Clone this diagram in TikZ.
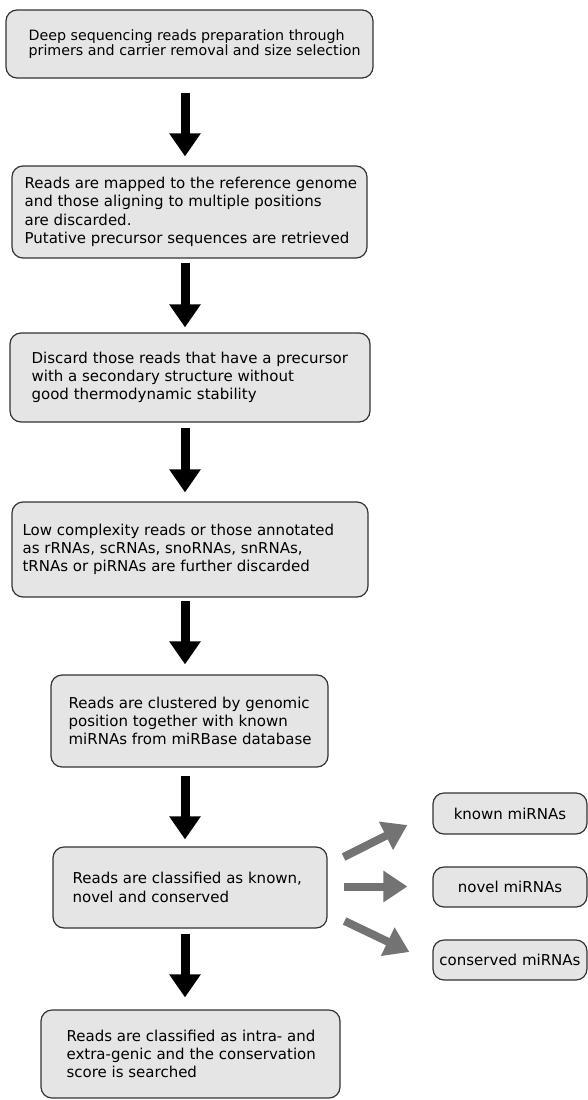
\documentclass[tikz,border=0pt]{standalone}
\usepackage{fontspec}
\setmainfont{DejaVu Sans}
\usetikzlibrary{arrows.meta}

\begin{document}
\begin{tikzpicture}[x=1pt,y=-1pt,
  stage/.style={draw=black!80, line width=1.2pt, fill=black!10, rounded corners=11pt, inner sep=0pt},
  txt/.style={anchor=west, align=left, inner sep=0pt, font=\fontsize{15}{18.3}\selectfont},
  down/.style={line width=9pt, -{Triangle[width=30pt,length=23pt]}},
  side/.style={black!55, line width=8pt, -{Triangle[width=30pt,length=24pt]}}]
\useasboundingbox (0,0) rectangle (588,1100);

% main column
\node[stage, minimum width=367pt, minimum height=68pt] (b1) at (189.5,44) {};
\node[stage, minimum width=355pt, minimum height=92pt] (b2) at (189.5,212) {};
\node[stage, minimum width=360pt, minimum height=89pt] (b3) at (190,377.5) {};
\node[stage, minimum width=356pt, minimum height=95pt] (b4) at (190,549.5) {};
\node[stage, minimum width=277pt, minimum height=92pt] (b5) at (189.5,721) {};
\node[stage, minimum width=274pt, minimum height=81pt] (b6) at (190,887.5) {};
\node[stage, minimum width=299pt, minimum height=88pt] (b7) at (190.5,1054) {};

\node[txt, font=\fontsize{14.25}{14.7}\selectfont] (t1) at ([xshift=23pt]b1.west)
  {Deep sequencing reads preparation through\\primers and carrier removal and size selection};
\node[txt] (t2) at ([xshift=13pt]b2.west)
  {Reads are mapped to the reference genome\\and those aligning to multiple positions\\are discarded.\\Putative precursor sequences are retrieved};
\node[txt] (t3) at ([xshift=22pt]b3.west)
  {Discard those reads that have a precursor\\with a secondary structure without\\good thermodynamic stability};
\node[txt] (t4) at ([xshift=11pt]b4.west)
  {Low complexity reads or those annotated\\as rRNAs, scRNAs, snoRNAs, snRNAs,\\tRNAs or piRNAs are further discarded};
\node[txt] (t5) at ([xshift=18pt]b5.west)
  {Reads are clustered by genomic\\position together with known\\miRNAs from miRBase database};
\node[txt] (t6) at ([xshift=20pt]b6.west)
  {Reads are classified as known,\\novel and conserved};
\node[txt] (t7) at ([xshift=26pt]b7.west)
  {Reads are classified as intra- and\\extra-genic and the conservation\\score is searched};

% classes
\node[stage, minimum width=154pt, minimum height=41pt, font=\fontsize{15}{18.3}\selectfont] (known) at (510,813.5) {known miRNAs};
\node[stage, minimum width=154pt, minimum height=40pt, font=\fontsize{15}{18.3}\selectfont] (novel) at (510,887) {novel miRNAs};
\node[stage, minimum width=154pt, minimum height=40pt, font=\fontsize{15}{18.3}\selectfont] (cons) at (510,960) {conserved miRNAs};

\coordinate (ax) at (185,0);
\draw[down, shorten <=14pt, shorten >=9pt] (b1.south -| ax) -- (b2.north -| ax);
\draw[down, shorten <=4pt, shorten >=5pt] (b2.south -| ax) -- (b3.north -| ax);
\draw[down, shorten <=5pt, shorten >=9pt] (b3.south -| ax) -- (b4.north -| ax);
\draw[down, shorten <=3pt, shorten >=10pt] (b4.south -| ax) -- (b5.north -| ax);
\draw[down, shorten <=8pt, shorten >=7pt] (b5.south -| ax) -- (b6.north -| ax);
\draw[down, shorten <=5pt, shorten >=12pt] (b6.south -| ax) -- (b7.north -| ax);

\draw[side] ([xshift=16pt,yshift=30.5pt]b6.east) -- ([xshift=-25pt,yshift=-11.5pt]known.west);
\draw[side] ([xshift=16pt,yshift=1pt]b6.east) -- ([xshift=-25pt,yshift=0.5pt]novel.west);
\draw[side] ([xshift=17pt,yshift=-33.5pt]b6.east) -- ([xshift=-23pt,yshift=8pt]cons.west);
\end{tikzpicture}
\end{document}
